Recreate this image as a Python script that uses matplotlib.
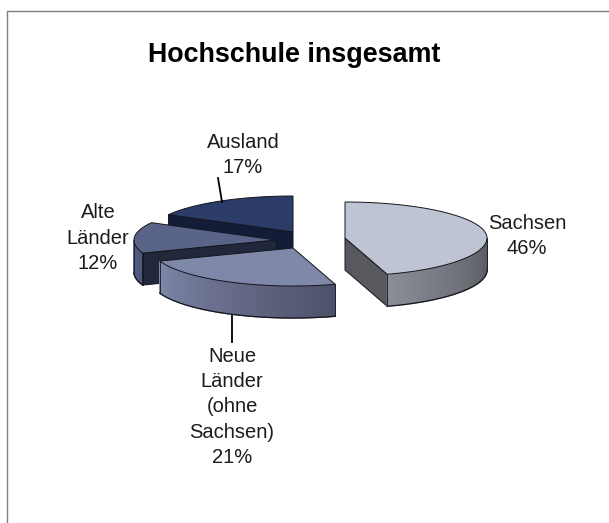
import numpy as np
import matplotlib
matplotlib.use("Agg")
import matplotlib.pyplot as plt
from matplotlib.colors import to_rgb
from matplotlib.patches import Polygon

# ---- data ----
title = "Hochschule insgesamt"
categories = ["Sachsen", "Neue\nLänder\n(ohne\nSachsen)", "Alte\nLänder", "Ausland"]
printed_percent = [46, 21, 12, 17]
# share of the circle each slice visibly occupies
drawn_share = [45.2, 24.2, 13.6, 17.0]

# ---- layout / style ----
W, H = 609, 523
RX, RY_BACK, RY_FRONT, DEPTH = 142, 36, 38, 32
apex = [(345, 238), (293, 248), (276, 240), (293, 232)]
top_col = ["#BEC4D4", "#7F88A8", "#5A6488", "#2B3C68"]
cut_col = ["#58595F", None, "#22283C", "#131D38"]
side_col = [("#8A8C96", "#54555B"), ("#4D5068", "#7E87A9"), ("#4A5478", "#5A6488"), None]
label_pos = [(527, 236), (232, 407), (98, 238), (243, 155)]
EDGE = "#15151c"
FONT = ["Liberation Sans", "DejaVu Sans"]

fig = plt.figure(figsize=(W / 100, H / 100), dpi=100, facecolor="white")
ax = fig.add_axes([0, 0, 1, 1])
ax.set_xlim(0, W)
ax.set_ylim(H, 0)
ax.axis("off")

ax.plot([6.5, 6.5, W], [H, 10.5, 10.5], color="#7f7f7f", lw=1.0, solid_capstyle="butt", zorder=0)

edges = np.concatenate([[0], np.cumsum(drawn_share)]) / sum(drawn_share) * 2 * np.pi


def rim(c, t):
    t = np.asarray(t, dtype=float)
    cs = np.cos(t)
    ry = np.where(cs >= 0, RY_BACK, RY_FRONT)
    return c[0] + RX * np.sin(t), c[1] - ry * cs


def cut_face(c, t, color, z):
    x, y = rim(c, t)
    pts = [c, (x, y), (x, y + DEPTH), (c[0], c[1] + DEPTH)]
    ax.add_patch(Polygon(pts, closed=True, fc=color, ec=EDGE, lw=0.7, zorder=z))


def side_face(c, t0, t1, colors, z):
    t = np.linspace(t0, t1, 60)
    x, y = rim(c, t)
    c0, c1 = np.array(to_rgb(colors[0])), np.array(to_rgb(colors[1]))
    for i in range(len(t) - 1):
        f = (i + 0.5) / (len(t) - 1)
        col = c0 * (1 - f) + c1 * f
        q = [(x[i], y[i]), (x[i + 1], y[i + 1]), (x[i + 1], y[i + 1] + DEPTH), (x[i], y[i] + DEPTH)]
        ax.add_patch(Polygon(q, closed=True, fc=col, ec=col, lw=0.9, zorder=z))
    ax.plot(x, y + DEPTH, color=EDGE, lw=0.9, zorder=z + 0.1)
    ax.plot([x[0], x[0]], [y[0], y[0] + DEPTH], color=EDGE, lw=0.6, zorder=z + 0.1)
    ax.plot([x[-1], x[-1]], [y[-1], y[-1] + DEPTH], color=EDGE, lw=0.6, zorder=z + 0.1)


def top_face(c, t0, t1, color, z):
    x, y = rim(c, np.linspace(t0, t1, 120))
    pts = np.vstack([[c], np.column_stack([x, y])])
    ax.add_patch(Polygon(pts, closed=True, fc=color, ec=EDGE, lw=0.7, zorder=z))


draw_order = [3, 2, 0, 1]
for n, i in enumerate(draw_order):
    z = 2 + n * 2
    t0, t1 = edges[i], edges[i + 1]
    if i == 0:
        cut_face(apex[i], t1, cut_col[i], z)
        side_face(apex[i], np.pi / 2, t1, side_col[i][::-1], z)
    elif i == 1:
        side_face(apex[i], t0, t1, side_col[i], z)
    elif i == 2:
        side_face(apex[i], t0, 1.5 * np.pi, side_col[i], z)
        cut_face(apex[i], t0, cut_col[i], z)
    else:
        cut_face(apex[i], t0, cut_col[i], z)
    top_face(apex[i], t0, t1, top_col[i], z + 1)

# leader lines
ax.plot([218, 222], [178, 202], color="black", lw=1.3, zorder=20)
ax.plot([232, 232], [316, 342], color="black", lw=1.3, zorder=20)

for name, pct, (x, y) in zip(categories, printed_percent, label_pos):
    ax.text(x, y, f"{name}\n{pct}%", ha="center", va="center", fontsize=14.5, family=FONT,
            color="#1c1c1c", linespacing=1.42, zorder=30)

ax.text(294.5, 55, title, ha="center", va="center", fontsize=19.4, fontweight="bold", family=FONT, color="black")

fig.savefig("out.png", dpi=100, facecolor="white")
